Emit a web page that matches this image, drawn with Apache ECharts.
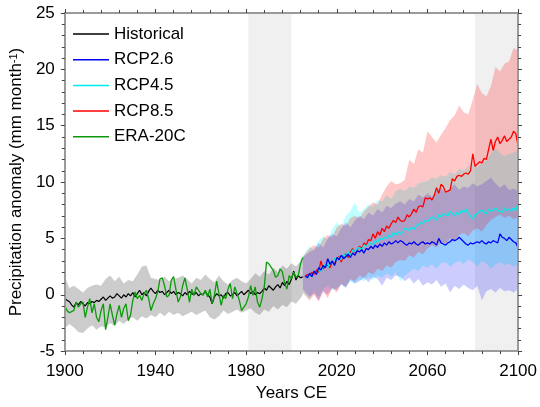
<!DOCTYPE html>
<html><head><meta charset="utf-8">
<script src="https://cdn.jsdelivr.net/npm/echarts@6/dist/echarts.min.js"></script>
<style>html,body{margin:0;padding:0;background:#fff}#c{width:540px;height:407px}</style>
</head><body><div id="c"></div>
<script>
// ---------- data ----------
const histStart = 1900;
const historical = [
 -0.3,-0.5,-0.6,-0.9,-1.1,-0.7,-0.9,-0.6,-0.8,-1.0,
 -0.7,-0.8,-0.6,-0.7,-0.5,-0.6,-0.4,-0.2,-0.5,-0.3,
 -0.1,-0.3,-0.2,0.1,-0.1,-0.3,0.0,-0.2,0.1,-0.1,
 0.2,-0.2,0.1,0.4,0.0,0.2,-0.1,0.3,0.6,0.3,
 0.1,0.4,0.2,0.3,0.0,0.2,0.4,0.1,0.3,0.0,
 0.2,0.1,-0.1,0.2,0.0,0.3,0.1,0.0,0.2,-0.1,
 0.1,0.0,0.3,0.0,-0.2,-0.8,-0.2,0.1,-0.1,0.0,
 -0.3,0.1,0.2,-0.1,0.0,0.2,-0.1,0.1,0.3,0.0,
 0.2,0.4,0.1,0.3,0.0,0.2,0.1,0.3,0.6,0.4,
 0.8,0.6,0.4,0.7,0.9,0.6,1.1,0.8,1.2,0.9,
 1.4,2.1,1.3,1.7,1.5,1.6];
const era20c = [
 -1.0,-1.4,-1.6,-1.5,-1.4,-0.65,-1.1,-0.8,-0.65,-2.0,
 -1.1,-0.35,-1.6,-0.8,-2.0,-2.4,-1.4,-0.8,-3.1,-2.0,
 -0.8,-1.8,-2.7,-1.7,-0.95,-2.0,-1.2,-0.8,-2.3,-1.8,
 -0.5,0.25,-0.35,-0.05,-0.5,0.1,0.4,-0.35,-1.4,-0.8,
 -0.35,0.25,1.4,1.5,0.8,-0.2,-0.05,1.3,1.6,0.5,
 -0.65,-0.2,0.8,1.5,0.5,-0.65,0.5,-0.05,0.7,0.4,
 0.1,-0.05,0.4,-0.2,0.5,-0.8,-0.05,1.2,0.1,-0.95,
 -0.05,-0.35,0.5,1.0,-0.35,0.7,0.1,-0.5,-1.4,-1.1,
 -0.8,-0.2,0.8,-0.05,0.7,-0.65,-1.1,-0.35,0.7,2.9,
 2.75,2.45,2.15,1.55,1.7,2.3,2.0,1.0,0.5,1.7,
 1.4,2.0,1.55,1.7,2.75,3.3];
const rcpStart = 2006;
const rcp85 = [
 1.6,1.8,1.7,2.0,1.8,2.2,2.0,3.0,2.3,2.5,
 2.6,2.4,2.9,2.7,3.1,3.4,2.9,3.5,3.6,3.3,
 3.8,4.1,3.7,4.0,4.3,4.1,4.6,4.4,4.9,4.8,
 5.4,5.0,5.6,5.3,5.9,5.6,6.1,5.9,6.3,6.6,
 6.4,6.9,6.6,6.5,6.6,7.1,6.9,7.2,7.6,7.3,
 7.8,7.9,7.8,8.6,8.5,8.6,8.4,8.8,9.5,9.0,
 9.8,9.6,9.1,9.2,9.3,10.3,10.1,10.5,10.6,10.5,
 10.7,10.8,10.7,11.0,12.5,11.4,11.6,11.8,11.7,12.1,
 12.0,12.9,13.8,12.8,13.6,14.0,13.4,13.7,14.1,13.6,
 13.8,14.0,14.5,14.3,13.2];
const rcp45 = [
 1.7,1.5,1.8,1.6,2.0,1.9,2.2,2.1,2.5,2.7,
 2.4,2.9,2.8,3.2,3.0,3.3,3.1,3.6,3.4,3.8,
 3.5,4.0,3.8,4.1,4.2,4.0,4.4,4.3,4.5,4.6,
 4.4,4.8,4.7,5.0,4.9,5.1,5.0,5.3,5.1,5.5,
 5.3,5.6,5.4,5.5,5.9,5.8,5.7,6.0,5.8,6.1,
 6.2,6.4,6.3,6.6,6.5,6.7,6.9,6.8,6.6,7.1,
 6.9,7.2,7.1,7.0,7.4,7.2,7.0,7.3,7.1,7.5,
 7.3,7.6,7.2,7.0,6.7,7.1,7.2,7.4,7.5,7.3,
 7.2,7.6,7.4,7.5,7.7,7.5,7.4,7.3,7.7,7.5,
 7.6,7.4,7.7,7.5,8.1];
const rcp26 = [
 1.7,1.5,1.9,1.6,2.1,1.8,2.4,2.2,2.6,2.4,
 3.2,2.7,3.0,2.6,3.3,3.1,3.5,3.2,3.4,3.6,
 3.3,3.7,3.5,3.9,3.8,4.0,3.7,4.1,4.0,4.3,
 4.1,4.4,4.2,4.5,4.3,4.6,4.4,4.7,4.5,4.6,
 4.8,4.6,4.8,4.7,4.5,4.4,4.6,4.5,4.7,4.5,
 4.4,4.6,4.7,4.5,4.6,4.5,4.7,4.6,4.4,5.0,
 4.6,4.5,4.4,4.6,4.7,4.9,4.8,4.9,5.1,4.9,
 4.7,4.5,4.4,4.6,4.5,4.6,4.7,4.6,4.8,4.6,
 4.5,4.7,4.6,4.8,4.7,4.6,5.4,5.1,5.0,4.8,
 5.1,4.9,4.7,4.6,4.2];

// spread bands (sampled every 2 years)
const histBandYears = [1900,1902,1904,1906,1908,1910,1912,1914,1916,1918,
 1920,1922,1924,1926,1928,1930,1932,1934,1936,1938,
 1940,1942,1944,1946,1948,1950,1952,1954,1956,1958,
 1960,1962,1964,1966,1968,1970,1972,1974,1976,1978,
 1980,1982,1984,1986,1988,1990,1992,1994,1996,1998,
 2000,2002,2004,2005];
const histBandHigh = [1.6,0.6,0.8,0.5,0.2,0.6,0.8,0.9,0.8,1.4,
 1.7,1.2,1.6,1.0,1.3,1.2,1.8,2.5,2.6,1.5,
 1.4,1.3,1.6,1.2,1.4,1.5,1.7,1.4,1.0,1.5,
 1.3,1.8,1.4,1.1,1.7,1.2,0.9,1.3,1.5,1.2,
 1.0,1.4,1.9,1.6,2.1,1.8,2.4,2.0,2.6,2.3,
 2.8,2.5,3.0,3.4];
const histBandLow = [-3.0,-2.6,-2.9,-3.3,-3.4,-3.0,-2.7,-3.1,-2.8,-2.9,
 -2.5,-2.8,-2.3,-2.6,-2.2,-2.0,-2.3,-1.9,-2.1,-1.8,
 -2.0,-1.6,-1.9,-1.5,-1.8,-1.6,-1.9,-1.7,-1.5,-1.8,
 -1.6,-1.4,-2.0,-2.2,-1.9,-1.4,-1.7,-1.5,-1.3,-1.6,
 -1.4,-1.2,-1.6,-1.8,-1.3,-1.5,-1.0,-1.3,-0.9,-1.1,
 -0.6,-0.8,-0.3,0.0];
const rcpBandYears = [2005,2008,2010,2012,2014,2016,2018,2020,2022,2024,
 2026,2028,2030,2032,2034,2036,2038,2040,2042,2044,
 2046,2048,2050,2052,2054,2056,2058,2060,2062,2064,
 2066,2068,2070,2072,2074,2076,2078,2080,2082,2084,
 2086,2088,2090,2092,2094,2096,2098,2100];
const rcp85High = [3.4,4.1,4.4,4.2,5.0,5.3,5.1,6.0,6.3,6.1,
 6.8,7.0,6.8,7.4,7.8,8.2,8.0,8.9,9.6,10.1,
 9.8,9.9,10.2,12.0,11.6,12.9,12.6,14.5,14.0,13.5,
 14.2,14.8,15.5,15.9,16.8,16.2,16.0,17.3,18.7,17.9,
 17.6,18.5,20.2,19.8,20.5,20.7,21.9,21.7];
const rcp85Low = [0.2,-0.5,0.0,-0.6,0.3,-0.3,0.6,0.2,1.0,0.7,
 1.4,1.2,1.7,1.5,2.0,1.8,2.3,2.1,2.6,2.4,
 2.9,3.1,3.0,3.5,3.3,3.8,3.6,4.1,4.4,4.2,
 4.7,4.5,5.0,4.8,5.3,5.5,5.2,5.7,5.9,5.6,
 6.2,6.6,6.9,7.1,6.8,7.0,6.7,6.9];
const rcp45High = [3.4,4.3,4.0,4.8,5.2,4.9,5.8,6.4,6.0,7.0,
 7.4,8.2,7.2,7.6,8.0,7.8,8.4,8.3,8.8,8.5,
 9.2,9.4,9.2,9.6,9.5,9.9,10.0,10.1,10.4,10.3,
 10.6,10.5,10.9,10.7,11.2,11.0,11.4,11.6,11.3,11.7,
 11.9,12.5,13.0,12.6,12.3,12.5,12.6,12.8];
const rcp45Low = [0.2,-0.4,0.3,-0.2,0.5,0.8,0.4,0.6,0.9,0.7,
 1.2,1.0,1.4,1.2,1.6,1.3,1.7,1.5,1.9,1.6,
 2.0,1.2,1.7,2.0,2.3,2.1,2.6,2.4,2.7,2.3,
 2.8,2.9,2.5,2.8,3.0,2.7,3.1,2.9,2.5,3.0,
 2.8,2.3,2.7,2.9,2.6,2.8,2.5,2.7];
const rcp26High = [3.3,3.8,4.0,4.6,4.2,5.0,5.4,5.2,5.9,6.4,
 6.0,6.6,7.0,6.7,7.3,7.0,7.6,7.3,7.9,7.7,
 8.1,8.3,8.0,8.5,8.3,8.9,8.6,9.0,8.7,9.2,
 9.5,9.0,9.4,9.8,9.3,9.6,9.5,9.9,9.6,9.8,
 10.1,10.4,9.9,9.5,9.8,9.3,9.4,9.2];
const rcp26Low = [0.5,-0.2,0.1,-0.5,0.3,0.0,0.6,0.4,0.9,0.6,
 1.3,1.0,1.2,1.5,1.1,1.6,1.4,0.8,1.5,1.3,
 1.7,1.6,1.2,1.5,1.0,1.4,0.8,1.1,0.9,1.3,
 0.7,1.0,0.2,0.8,0.5,0.9,0.6,0.4,0.8,-0.5,
 0.3,0.5,0.2,0.6,0.3,0.4,0.2,0.5];

const shadePeriods = [[1981, 2000], [2081, 2100]];
const legendNames = ['Historical', 'RCP2.6', 'RCP4.5', 'RCP8.5', 'ERA-20C'];

// ---------- helpers ----------
const FONT = 'Liberation Sans, Arial, sans-serif';
const annual = (start, vals) => vals.map((v, i) => [start + i, v]);

// spread band: one polygon through the axis scales (api.coord)
function band(id, years, lo, hi, color) {
  return {
    name: id, type: 'custom', z: 2, silent: true,
    data: years.map((y, i) => [y, lo[i], hi[i]]),
    encode: { x: 0, y: [1, 2] },
    renderItem(params, api) {
      if (params.dataIndexInside !== 0) return null;
      const n = params.dataInsideLength || years.length;
      const top = [], bot = [];
      for (let j = 0; j < n; j++) {
        top.push(api.coord([api.value(0, j), api.value(2, j)]));
        bot.push(api.coord([api.value(0, j), api.value(1, j)]));
      }
      return { type: 'polygon', shape: { points: top.concat(bot.reverse()) },
               style: { fill: color } };
    }
  };
}
function line(name, start, vals, color, w) {
  return { name, type: 'line', data: annual(start, vals), symbol: 'none',
    z: 4, lineStyle: { color, width: w }, itemStyle: { color } };
}

const axisLine = { show: true, onZero: false, lineStyle: { color: '#9a9a9a', width: 2 } };
const tick = { show: true, length: 4, lineStyle: { color: '#444', width: 1 } };
const minorTick = { show: true, splitNumber: 5, length: 3, lineStyle: { color: '#444', width: 1 } };

const option = {
  animation: false,
  grid: { left: 60, right: 21, top: 13, bottom: 55 },
  legend: {
    data: legendNames, orient: 'vertical', left: 73, top: 25.5, padding: 0,
    icon: 'rect', itemWidth: 36, itemHeight: 1.5, itemGap: 8.7,
    textStyle: { fontSize: 17, color: '#000', fontFamily: FONT }
  },
  xAxis: [
    { type: 'value', min: 1900, max: 2100, interval: 40, position: 'bottom', z: 10,
      axisLine, axisTick: tick, minorTick, splitLine: { show: false },
      axisLabel: { fontSize: 17, color: '#000', fontFamily: FONT, margin: 12,
                   formatter: v => String(v) },
      name: 'Years CE', nameLocation: 'middle', nameGap: 32,
      nameTextStyle: { fontSize: 17, color: '#000', fontFamily: FONT } },
    { type: 'value', min: 1900, max: 2100, interval: 40, position: 'top', z: 10,
      axisLine, axisTick: tick, minorTick, splitLine: { show: false },
      axisLabel: { show: false } }
  ],
  yAxis: [
    { type: 'value', min: -5, max: 25, interval: 5, position: 'left', z: 10,
      axisLine, axisTick: tick, minorTick, splitLine: { show: false },
      axisLabel: { fontSize: 17, color: '#000', fontFamily: FONT, margin: 10 },
      name: '{a|Precipitation anomaly (mm month}{s|-1}{a|)}',
      nameLocation: 'middle', nameGap: 34,
      nameTextStyle: { color: '#000', fontFamily: FONT,
        rich: { a: { fontSize: 17, fontFamily: FONT, color: '#000' },
                s: { fontSize: 11, fontFamily: FONT, color: '#000', verticalAlign: 'top' } } } },
    { type: 'value', min: -5, max: 25, interval: 5, position: 'right', z: 10,
      axisLine, axisTick: tick, minorTick, splitLine: { show: false },
      axisLabel: { show: false } }
  ],
  series: [
    { name: 'shade', type: 'line', data: [], silent: true, z: 1,
      markArea: { silent: true, itemStyle: { color: '#f0f0f0' },
        data: shadePeriods.map(p => [{ xAxis: p[0] }, { xAxis: p[1] }]) } },
    band('histBand', histBandYears, histBandLow, histBandHigh, 'rgba(0,0,0,0.2)'),
    band('rcp45Band', rcpBandYears, rcp45Low, rcp45High, 'rgba(0,255,255,0.26)'),
    band('rcp26Band', rcpBandYears, rcp26Low, rcp26High, 'rgba(0,0,255,0.2)'),
    band('rcp85Band', rcpBandYears, rcp85Low, rcp85High, 'rgba(255,0,0,0.22)'),
    line('Historical', histStart, historical, '#000000', 1.2),
    line('ERA-20C', histStart, era20c, '#0a9a0a', 1.3),
    line('RCP8.5', rcpStart, rcp85, '#ff0000', 1.3),
    line('RCP4.5', rcpStart, rcp45, '#00ecec', 1.3),
    line('RCP2.6', rcpStart, rcp26, '#0000f0', 1.3)
  ]
};
echarts.init(document.getElementById('c'), null, { renderer: 'canvas' }).setOption(option);
</script>
</body></html>
